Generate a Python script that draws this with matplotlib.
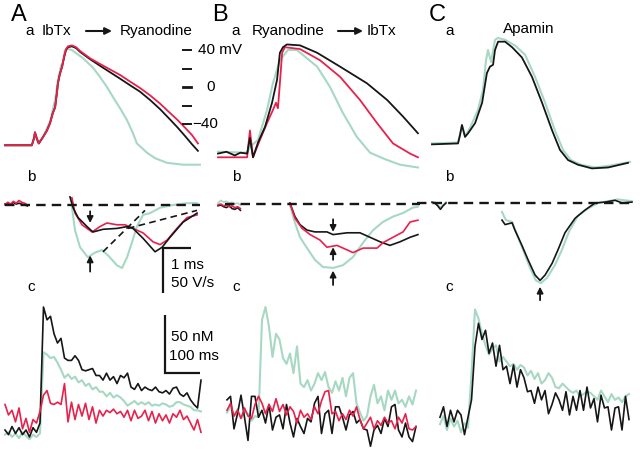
import numpy as np
import matplotlib
matplotlib.use('Agg')
import matplotlib.pyplot as plt

plt.rcParams['font.family'] = ['Liberation Sans', 'DejaVu Sans']

BLACK = '#161616'
RED = '#e8204c'
GREEN = '#a6d8c3'

# ---------------- row a: action potentials (time in ms, voltage in mV)
A_ap_t_blk = [0, 0.96, 1.04, 1.07, 1.14, 1.21, 1.36, 1.5, 1.61, 1.71, 1.79, 1.86, 1.89, 1.96, 2.04, 2.11, 2.18,
              2.25, 2.39, 2.54, 2.68, 3.04, 3.39, 3.75, 4.11, 4.46, 4.82, 5.18, 5.54, 5.89, 6.14, 6.43, 6.68, 6.89]
A_ap_v_blk = [-63, -63, -55, -49, -56, -61, -54, -47, -39, -28, -22, -5, 4, 14, 22, 32, 40,
              43, 44, 42, 38, 30, 23, 16, 9, 2, -5, -14, -24, -35, -43, -53, -62, -69]
A_ap_v_red = [-63, -63, -55, -49, -56, -61, -54, -47, -39, -28, -22, -5, 4, 14, 22, 33, 41,
              44, 45, 43, 39, 31, 25, 19, 13, 6, -1, -9, -18, -28, -35, -44, -52, -61]
A_ap_t_ctl = [0, 0.96, 1.07, 1.18, 1.36, 1.61, 1.79, 1.89, 2.0, 2.07, 2.14, 2.25, 2.39, 2.79, 3.14, 3.39,
              3.64, 3.86, 4.11, 4.36, 4.57, 4.71, 5.07, 5.36, 5.79, 6.36, 6.96]
A_ap_v_ctl = [-63, -63, -50, -61, -54, -37, -14, 8, 23, 27, 40, 41, 40, 31, 21, 11,
              0, -11, -23, -36, -50, -61, -71, -77, -82, -84, -84]

B_ap_t_blk = [0, 0.3, 0.6, 0.8, 1.04, 1.14, 1.25, 1.43, 1.68, 1.93, 2.11, 2.21, 2.32, 2.46, 2.93, 3.54,
              4.36, 5.32, 6.04, 6.61, 7.14]
B_ap_v_blk = [-72, -70, -74, -71, -72, -55, -76, -60, -43, -17, 8, 37, 43, 46, 45, 37,
              22, 4, -14, -32, -50]
B_ap_t_red = [0, 1.04, 1.14, 1.25, 1.5, 1.75, 1.96, 2.07, 2.14, 2.21, 2.29, 2.39, 2.93, 3.64, 4.36, 5.07,
              5.68, 6.25, 6.86, 7.14]
B_ap_v_red = [-76, -76, -47, -76, -57, -39, -25, -17, -23, 4, 37, 43, 41, 29, 11, -14,
              -39, -61, -72, -76]
B_ap_t_ctl = [0, 1.04, 1.14, 1.43, 1.75, 1.96, 2.21, 2.5, 2.82, 3.54, 4.0, 4.46, 4.96, 5.43, 5.96, 6.5, 7.14]
B_ap_v_ctl = [-70, -71, -65, -57, -25, 4, 29, 40, 40, 22, 0, -28, -54, -71, -78, -84, -87]

C_ap_t_blk = [0, 0.93, 1.0, 1.07, 1.18, 1.29, 1.54, 1.79, 1.96, 2.07, 2.18, 2.25, 2.36, 2.61, 2.86, 3.21,
              3.57, 3.93, 4.29, 4.57, 4.86, 5.21, 5.71, 6.29, 7.0]
C_ap_v_blk = [-62, -61, -52, -41, -54, -50, -39, -17, 15, 22, 24, 40, 49, 49, 43, 32,
              11, -17, -47, -68, -79, -84, -88, -87, -82]
C_ap_t_ctl = [0, 0.93, 1.07, 1.18, 1.36, 1.64, 1.82, 1.93, 2.0, 2.11, 2.25, 2.36, 2.61, 2.96, 3.32, 3.68,
              4.04, 4.39, 4.68, 4.96, 5.32, 5.82, 6.36, 7.07]
C_ap_v_ctl = [-61, -60, -42, -53, -44, -25, -3, 29, 40, 27, 51, 53, 51, 45, 35, 11,
              -17, -47, -68, -79, -84, -87, -85, -81]

MV_TICKS = [40, 20, 0, -20, -40]

# ---------------- row b: dV/dt (time in ms, V/s)
PRE_T = [0, 0.1, 0.2, 0.3, 0.4, 0.5, 0.6, 0.7, 0.8]
A_pre_red = [0, 3, 1, 4, 2, 5, 3, 2, 0]
A_pre_blk = [1, 2, 0, 3, 1, 2, 1, 0, -1]
B_pre_red = [-1, 0, -2, -1, -3, -2, -4, -3, -5]
B_pre_blk = [-2, -1, -3, -4, -2, -5, -6, -4, -7]
B_pre_ctl = [1, 4, 2, 3, 1, 2, 0, 1, -1]
C_pre_t = [0, 0.1, 0.2, 0.3, 0.4, 0.5]
C_pre_blk = [1, 0, -3, -7, -3, 0]
C_pre_ctl = [0, 1, -2, -5, -2, 1]

A_dv_t_blk = [2.32, 2.43, 2.61, 2.93, 3.14, 3.5, 4.0, 4.36, 4.57, 4.93, 5.36, 5.61, 5.89, 6.36, 6.86]
A_dv_blk = [9, -3, -14, -24, -30, -27, -26, -24, -26, -37, -52, -47, -36, -19, -9]
A_dv_t_red = [2.39, 2.5, 2.75, 3.11, 3.39, 3.64, 4.0, 4.29, 4.57, 4.93, 5.29, 5.54, 5.79, 6.14, 6.5, 6.86]
A_dv_red = [8, -9, -22, -30, -24, -20, -22, -22, -26, -31, -41, -44, -39, -26, -14, -11]
A_dv_t_ctl = [2.39, 2.5, 2.68, 2.96, 3.21, 3.46, 3.68, 4.0, 4.18, 4.36, 4.54, 4.71, 4.93, 5.18, 5.54, 6.0,
              6.5, 6.86]
A_dv_ctl = [-2, -28, -47, -58, -53, -50, -56, -67, -70, -58, -41, -24, -11, -9, -3, 0, 2, 2]
A_tan1_t = [3.5, 5.0]
A_tan1_dv = [-52, -6]
A_tan2_t = [4.39, 6.86]
A_tan2_dv = [-26, -6]

B_dv_t_blk = [2.57, 2.75, 2.93, 3.18, 3.46, 3.89, 4.11, 4.61, 5.07, 5.43, 5.79, 6.14, 6.5, 6.86, 7.14]
B_dv_blk = [1, -14, -23, -29, -31, -31, -34, -32, -32, -37, -42, -46, -42, -37, -34]
B_dv_t_red = [2.57, 2.75, 3.0, 3.29, 3.64, 3.89, 4.25, 4.61, 4.82, 5.18, 5.68, 5.89, 6.25, 6.61, 6.86, 7.14]
B_dv_red = [1, -16, -27, -34, -40, -48, -46, -51, -54, -49, -49, -43, -37, -31, -20, -18]
B_dv_t_ctl = [2.57, 2.75, 2.93, 3.18, 3.46, 3.75, 4.11, 4.46, 4.82, 5.18, 5.54, 5.89, 6.25, 6.61, 6.96, 7.14]
B_dv_ctl = [-1, -21, -37, -49, -62, -70, -71, -68, -59, -43, -29, -20, -14, -10, -4, -3]

C_dv_t_blk = [2.5, 2.61, 2.86, 2.96, 3.21, 3.43, 3.68, 3.86, 4.04, 4.29, 4.5, 4.75, 5.11, 5.46, 5.82, 6.18,
              6.54, 6.79, 7.14]
C_dv_blk = [-19, -24, -22, -30, -47, -63, -80, -86, -80, -67, -52, -33, -17, -8, 0, 1, 3, 0, 1]
C_dv_t_ctl = [2.5, 2.64, 2.86, 3.0, 3.25, 3.5, 3.71, 3.89, 4.11, 4.39, 4.64, 4.89, 5.21, 5.57, 5.93, 6.29,
              6.64, 7.14]
C_dv_ctl = [-10, -19, -21, -32, -52, -72, -86, -89, -83, -69, -52, -32, -14, -6, 0, 2, 4, 2]

# ---------------- row c: calcium (nM, one sample every 10 ms)
CA_STEP = 10
A_ca_blk = [0, -4, 3, -3, 2, -4, 0, -6, 2, -2, 6, 106, 95, 98, 83, 75, 79, 62, 60, 60,
            64, 60, 52, 51, 52, 53, 47, 47, 43, 49, 43, 46, 40, 47, 45, 49, 37, 35, 40, 34,
            37, 35, 34, 37, 33, 32, 34, 31, 36, 37, 31, 29, 32, 26, 22, 19, 43]
A_ca_ctl = [-4, -2, -6, -3, -7, -2, -5, -8, -4, -6, -3, 67, 65, 62, 63, 58, 52, 45, 48, 44,
            46, 41, 43, 38, 40, 35, 37, 33, 33, 29, 32, 28, 30, 28, 25, 21, 23, 25, 22, 24,
            22, 24, 21, 22, 21, 23, 22, 20, 21, 24, 24, 22, 21, 20, 17, 17, 16]
A_ca_red = [22, 13, 17, 7, 19, 1, 10, -2, 9, 6, 16, 30, 34, 23, 22, 24, 22, 40, 7, 24,
            9, 22, 12, 23, 9, 20, 6, 17, 12, 17, 15, 18, 14, 16, 11, 17, 8, 17, 10, 12,
            17, 8, 16, 6, 14, 8, 13, 6, 14, 11, 17, 9, 12, 6, 0, 9, -2]
B_ca_blk = [26, 29, 1, 14, 30, 11, -9, 29, 29, 11, 17, 6, 22, 0, 11, 13, 1, 22, 6, -6,
            10, 3, -3, 10, 7, 23, 29, -3, 14, 17, -3, 20, 20, 11, 0, 13, 16, 6, 9, 1,
            0, -14, 0, 4, -3, 10, 3, 20, 22, 0, -6, 6, -6, -10, 3]
B_ca_red = [17, 23, 12, 17, 10, 19, 12, 10, 22, 29, 23, 14, 22, 16, 27, 16, 22, 13, 20, 16,
            6, 17, 11, 14, 9, 20, 14, 25, 33, 34, 14, 16, 8, 14, 9, 17, 12, 20, 9, 1,
            6, 11, 1, 8, 4, 11, 6, 8, 1, 11, 6, 14, 1, 0, 3]
B_ca_ctl = [15, 20, 12, 18, 10, 16, 14, 8, 12, 11, 95, 106, 89, 63, 83, 78, 62, 57, 66, 49,
            72, 40, 37, 43, 34, 40, 49, 43, 50, 37, 32, 42, 34, 45, 29, 45, 49, 23, 15, 8,
            12, 29, 39, 23, 29, 17, 34, 26, 34, 23, 26, 20, 29, 22, 34]
C_ca_blk = [11, 20, 3, 17, 7, 17, 13, -4, 11, 26, 72, 92, 78, 86, 66, 75, 55, 73, 52,
            55, 40, 56, 37, 52, 45, 33, 34, 23, 37, 26, 34, 14, 22, 32, 26, 17, 33, 13, 29,
            17, 34, 17, 37, 19, 27, 7, 30, 19, 20, 0, 19, 20, 0, 29, 9]
C_ca_ctl = [5, 12, 0, 10, 3, 8, -2, 6, 2, 49, 104, 96, 83, 73, 65, 70, 73, 59, 63,
            59, 55, 57, 52, 56, 54, 47, 51, 44, 49, 40, 43, 49, 45, 37, 36, 40, 37, 34, 32,
            34, 29, 31, 33, 32, 29, 26, 34, 29, 24, 31, 26, 28, 24, 29, 31]

# ---------------- layout (pixels of a 640x454 canvas)
W, H = 640, 454
PX_MS, PX_MV, PX_VS = 28.0, 0.925, 0.9      # rows a and b
PX_CA_MS, PX_NM = 0.35, 1.16                # row c
FS = 11

fig = plt.figure(figsize=(6.4, 4.54), dpi=100)


def px_axes(left, top, width, height, xlim, ylim):
    ax = fig.add_axes([left / W, 1 - (top + height) / H, width / W, height / H])
    ax.set_xlim(*xlim)
    ax.set_ylim(*ylim)
    ax.axis('off')
    return ax


def put(x, y, s, size=FS, ha='left'):
    fig.text(x / W, 1 - y / H, s, fontsize=size, ha=ha, va='center')


panels = [
    dict(x0=5, dv0=205, cx0=5,
         ap=[(A_ap_t_ctl, A_ap_v_ctl, GREEN), (A_ap_t_blk, A_ap_v_blk, BLACK), (A_ap_t_blk, A_ap_v_red, RED)],
         pre=[(PRE_T, A_pre_blk, BLACK), (PRE_T, A_pre_red, RED)],
         dv=[(A_dv_t_ctl, A_dv_ctl, GREEN), (A_dv_t_red, A_dv_red, RED), (A_dv_t_blk, A_dv_blk, BLACK)],
         ca=[(A_ca_ctl, GREEN), (A_ca_blk, BLACK), (A_ca_red, RED)]),
    dict(x0=218, dv0=204, cx0=227,
         ap=[(B_ap_t_ctl, B_ap_v_ctl, GREEN), (B_ap_t_red, B_ap_v_red, RED), (B_ap_t_blk, B_ap_v_blk, BLACK)],
         pre=[(PRE_T, B_pre_ctl, GREEN), (PRE_T, B_pre_blk, BLACK), (PRE_T, B_pre_red, RED)],
         dv=[(B_dv_t_ctl, B_dv_ctl, GREEN), (B_dv_t_blk, B_dv_blk, BLACK), (B_dv_t_red, B_dv_red, RED)],
         ca=[(B_ca_ctl, GREEN), (B_ca_blk, BLACK), (B_ca_red, RED)]),
    dict(x0=432, dv0=203, cx0=440,
         ap=[(C_ap_t_ctl, C_ap_v_ctl, GREEN), (C_ap_t_blk, C_ap_v_blk, BLACK)],
         pre=[(C_pre_t, C_pre_ctl, GREEN), (C_pre_t, C_pre_blk, BLACK)],
         dv=[(C_dv_t_ctl, C_dv_ctl, GREEN), (C_dv_t_blk, C_dv_blk, BLACK)],
         ca=[(C_ca_ctl, GREEN), (C_ca_blk, BLACK)]),
]

axes = []
for p in panels:
    ax_a = px_axes(p['x0'] - 20, 30, 235, 150, (-20 / PX_MS, 215 / PX_MS),
                   ((87 - 180) / PX_MV, (87 - 30) / PX_MV))
    ax_b = px_axes(p['x0'] - 20, 180, 235, 130, (-20 / PX_MS, 215 / PX_MS),
                   ((p['dv0'] - 310) / PX_VS, (p['dv0'] - 180) / PX_VS))
    ax_c = px_axes(p['cx0'] - 10, 290, 225, 162, (-10 / PX_CA_MS, 215 / PX_CA_MS),
                   ((430 - 452) / PX_NM, (430 - 290) / PX_NM))
    for t, v, c in p['ap']:
        ax_a.plot(t, v, color=c, lw=1.5 if c == GREEN else 1.3, solid_joinstyle='round')
    for t, v, c in p['pre']:
        ax_b.plot(t, v, color=c, lw=1.2)
    for t, v, c in p['dv']:
        ax_b.plot(t, v, color=c, lw=1.5 if c == GREEN else 1.2)
    for v, c in p['ca']:
        ax_c.plot(np.arange(len(v)) * CA_STEP, v, color=c, lw=1.5 if c == GREEN else 1.2)
    axes.append((ax_a, ax_b, ax_c))

# dashed zero lines in row b
zero_spans = [(0, 6.96), (0.25, 7.21), (-0.54, 7.25)]
for (ax_a, ax_b, ax_c), (t0, t1) in zip(axes, zero_spans):
    ax_b.plot([t0, t1], [0, 0], color=BLACK, lw=1.7, ls=(0, (4, 2.6)), zorder=5)

axA_a, axA_b, axA_c = axes[0]
axA_b.plot(A_tan1_t, A_tan1_dv, color=BLACK, lw=1.2, ls=(0, (4, 2.6)))
axA_b.plot(A_tan2_t, A_tan2_dv, color=BLACK, lw=1.2, ls=(0, (4, 2.6)))


def arrow(ax, t, v_from, v_to):
    ax.annotate('', xy=(t, v_to), xytext=(t, v_from),
                arrowprops=dict(arrowstyle='-|>', color=BLACK, lw=1.3, mutation_scale=9,
                                shrinkA=0, shrinkB=0))


arrow(axA_b, 3.04, -7, -20)
arrow(axA_b, 3.04, -74, -56)
axB_b = axes[1][1]
arrow(axB_b, 4.11, -17, -31)
arrow(axB_b, 4.11, -62, -48)
arrow(axB_b, 4.11, -90, -74)
axC_b = axes[2][1]
arrow(axC_b, 3.86, -108, -93)

# voltage ticks
for mv in MV_TICKS:
    axA_a.plot([6.36, 6.64], [mv, mv], color=BLACK, lw=2.0 if mv == 0 else 1.4, clip_on=False)
axA_a.text(6.89, 40, '40 mV', fontsize=FS, va='center')
axA_a.text(7.18, 0, '0', fontsize=FS, va='center')
axA_a.text(7.6, -40, '\u221240', fontsize=FS, va='center', ha='right')

# scale bars
axA_b.plot([6.64, 5.64, 5.64], [-47.8, -47.8, -97.8], color=BLACK, lw=1.6,
           solid_joinstyle='miter', solid_capstyle='butt')
axA_c.plot([557, 457, 457], [49, 49, 99], color=BLACK, lw=1.6,
           solid_joinstyle='miter', solid_capstyle='butt')
put(171, 265, '1 ms')
put(171, 283, '50 V/s')
put(171, 337, '50 nM')
put(169, 356, '100 ms')

# labels
put(11, 15, 'A', 17)
put(212, 15, 'B', 17)
put(429, 15, 'C', 17)
put(25, 31, 'a')
put(42, 31, 'IbTx')
put(120, 31, 'Ryanodine')
put(231, 31, 'a')
put(252, 31, 'Ryanodine')
put(367, 31, 'IbTx')
put(445, 31, 'a')
put(503, 29, 'Apamin')
for x in (27, 232, 445):
    put(x, 177, 'b')
    put(x, 287, 'c')

for xa, xb in ((86, 112), (338, 363)):
    axA_a.annotate('', xy=(xb / W, 1 - 31 / H), xytext=(xa / W, 1 - 31 / H),
                   xycoords='figure fraction', textcoords='figure fraction', annotation_clip=False,
                   arrowprops=dict(arrowstyle='-|>', color=BLACK, lw=1.5, mutation_scale=10,
                                   shrinkA=0, shrinkB=0))

fig.savefig('out.png', dpi=100)
